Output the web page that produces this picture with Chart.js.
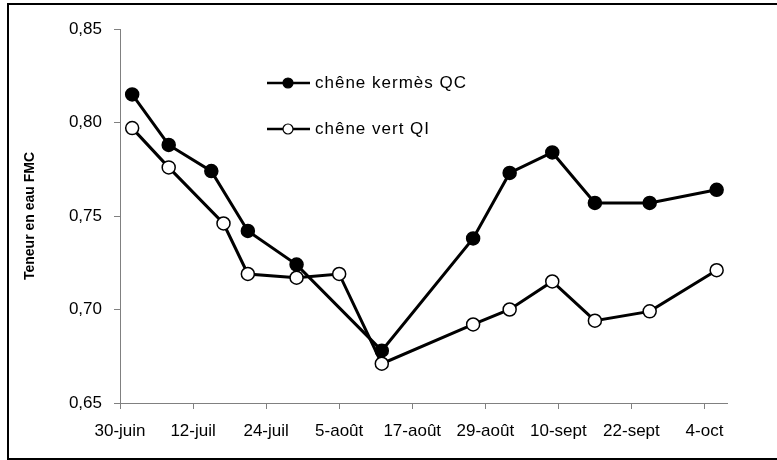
<!DOCTYPE html>
<html lang="fr">
<head>
<meta charset="utf-8">
<title>Teneur en eau FMC</title>
<script src="https://cdn.jsdelivr.net/npm/chart.js@4.4.1/dist/chart.umd.min.js"></script>
<style>
  html, body { margin: 0; padding: 0; background: #fff; }
  #wrap { position: relative; width: 777px; height: 460px; }
</style>
</head>
<body>
<div id="wrap"><canvas id="fmc" width="777" height="460"></canvas></div>
<script>
// Jours comptés depuis le 30 juin ; une graduation tous les 12 jours
const tickLabels = ['30-juin', '12-juil', '24-juil', '5-août', '17-août', '29-août', '10-sept', '22-sept', '4-oct'];
const tickStepDays = 12;
const axisEndDays = 99.7;

// Chêne kermès (QC)
const kermesDays = [2, 8, 15, 21, 29, 43, 58, 64, 71, 78, 87, 98];
const kermesFMC  = [0.815, 0.788, 0.774, 0.742, 0.724, 0.678, 0.738, 0.773, 0.784, 0.757, 0.757, 0.764];

// Chêne vert (QI)
const vertDays = [2, 8, 17, 21, 29, 36, 43, 58, 64, 71, 78, 87, 98];
const vertFMC  = [0.797, 0.776, 0.746, 0.719, 0.717, 0.719, 0.671, 0.692, 0.700, 0.715, 0.694, 0.699, 0.721];

const seriesNames = ['chêne kermès QC', 'chêne vert QI'];
const yTitle = 'Teneur en eau FMC';

const toPoints = (xs, ys) => xs.map((x, i) => ({ x: x, y: ys[i] }));
const FONT = "'Liberation Sans', Arial, sans-serif";

// Cadre, fond blanc et légende dessinée dans la zone du graphique
const framePlugin = {
  id: 'frame',
  beforeDraw(chart) {
    const ctx = chart.ctx;
    ctx.save();
    ctx.fillStyle = '#fff';
    ctx.fillRect(0, 0, chart.width, chart.height);
    ctx.strokeStyle = '#000';
    ctx.lineWidth = 2;
    ctx.beginPath();
    ctx.moveTo(8, chart.height);
    ctx.lineTo(8, 4);
    ctx.lineTo(chart.width, 4);
    ctx.moveTo(7, chart.height - 1);
    ctx.lineTo(chart.width, chart.height - 1);
    ctx.stroke();
    ctx.restore();
  },
  afterDraw(chart) {
    const ctx = chart.ctx;
    const area = chart.chartArea;
    const x0 = area.left + 147, x1 = area.left + 190, xm = area.left + 168;
    const rows = [area.top + 54, area.top + 100];
    ctx.save();
    chart.data.datasets.forEach((ds, i) => {
      const y = rows[i];
      ctx.strokeStyle = '#000';
      ctx.lineWidth = 2.5;
      ctx.beginPath();
      ctx.moveTo(x0, y);
      ctx.lineTo(x1, y);
      ctx.stroke();
      ctx.beginPath();
      ctx.arc(xm, y, 5, 0, Math.PI * 2);
      ctx.fillStyle = ds.pointBackgroundColor;
      ctx.fill();
      ctx.lineWidth = 1.2;
      ctx.stroke();
      ctx.fillStyle = '#000';
      ctx.font = '17px ' + FONT;
      if ('letterSpacing' in ctx) ctx.letterSpacing = '1px';
      ctx.textBaseline = 'middle';
      ctx.textAlign = 'left';
      ctx.fillText(ds.label, x1 + 5, y);
    });
    ctx.restore();
  }
};

new Chart(document.getElementById('fmc'), {
  type: 'line',
  data: {
    datasets: [
      {
        label: seriesNames[0],
        data: toPoints(kermesDays, kermesFMC),
        borderColor: '#000',
        borderWidth: 3,
        pointRadius: 6.5,
        pointBorderWidth: 1.5,
        pointBackgroundColor: '#000',
        pointBorderColor: '#000',
        tension: 0,
        order: 2
      },
      {
        label: seriesNames[1],
        data: toPoints(vertDays, vertFMC),
        borderColor: '#000',
        borderWidth: 3,
        pointRadius: 6.5,
        pointBorderWidth: 1.5,
        pointBackgroundColor: '#fff',
        pointBorderColor: '#000',
        tension: 0,
        order: 1
      }
    ]
  },
  options: {
    responsive: false,
    animation: false,
    events: [],
    layout: { padding: { left: 0, top: 29, right: 50, bottom: 0 } },
    plugins: {
      legend: { display: false },
      tooltip: { enabled: false }
    },
    scales: {
      x: {
        type: 'linear',
        min: 0,
        max: axisEndDays,
        afterBuildTicks(scale) {
          scale.ticks = tickLabels.map((_, i) => ({ value: i * tickStepDays }));
        },
        afterFit(scale) { scale.height = 57; },
        grid: { drawOnChartArea: false, drawTicks: true, tickLength: 6, color: '#808080', lineWidth: 1 },
        border: { display: true, color: '#808080', width: 1 },
        ticks: {
          autoSkip: false,
          maxRotation: 0,
          padding: 12,
          color: '#000',
          font: { family: FONT, size: 17 },
          callback: (v) => tickLabels[Math.round(v / tickStepDays)]
        }
      },
      y: {
        min: 0.65,
        max: 0.85,
        afterFit(scale) { scale.width = 120; },
        grid: { drawOnChartArea: false, drawTicks: true, tickLength: 6, color: '#808080', lineWidth: 1 },
        border: { display: true, color: '#808080', width: 1 },
        ticks: {
          stepSize: 0.05,
          padding: 12,
          color: '#000',
          font: { family: FONT, size: 17 },
          callback: (v) => v.toFixed(2).replace('.', ',')
        },
        title: {
          display: true,
          text: yTitle,
          color: '#000',
          font: { family: FONT, size: 14, weight: 'bold' },
          padding: { top: 22, bottom: 0 }
        }
      }
    }
  },
  plugins: [framePlugin]
});
</script>
</body>
</html>
